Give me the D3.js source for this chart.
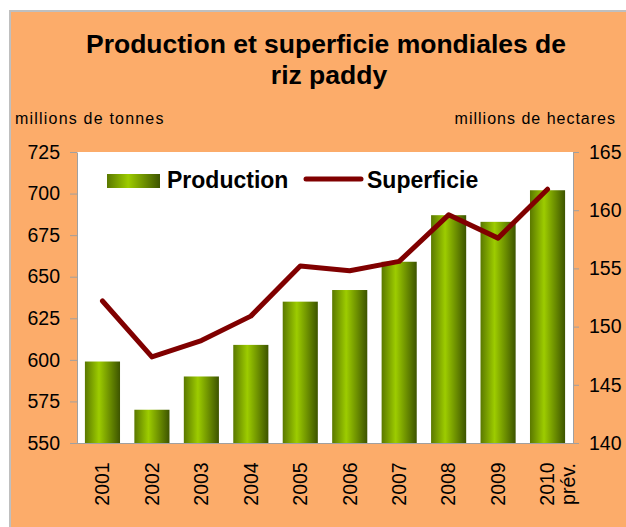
<!DOCTYPE html>
<html>
<head>
<meta charset="utf-8">
<script src="https://cdn.jsdelivr.net/npm/d3@7"></script>
<style>
  body { margin: 0; background: #fff; }
  svg { display: block; font-family: "Liberation Sans", Arial, sans-serif; }
  .tick text { font-size: 19.5px; fill: #000; }
  .tick line, .domain { stroke: #a0a0a0; }
</style>
</head>
<body>
<div id="chart"></div>
<script>
// chart data
var years = ["2001", "2002", "2003", "2004", "2005", "2006", "2007", "2008", "2009", "2010"];
var yearLabels = [["2001"], ["2002"], ["2003"], ["2004"], ["2005"], ["2006"], ["2007"], ["2008"], ["2009"], ["2010", "prév."]];
var production = [599, 570, 590, 609, 635, 642, 659, 687, 683, 702];   // millions de tonnes
var superficie = [152.2, 147.4, 148.8, 150.9, 155.2, 154.8, 155.6, 159.6, 157.6, 161.8]; // millions d'hectares
var leftTicks = [550, 575, 600, 625, 650, 675, 700, 725];
var rightTicks = [140, 145, 150, 155, 160, 165];

var width = 626, height = 527;
var plot = {left: 77, right: 573, top: 152, bottom: 443};

var svg = d3.select("#chart").append("svg")
    .attr("width", width)
    .attr("height", height);

// gradient for the bars
var defs = svg.append("defs");
var grad = defs.append("linearGradient").attr("id", "barGrad")
    .attr("x1", "0%").attr("x2", "100%").attr("y1", "0%").attr("y2", "0%");
grad.append("stop").attr("offset", "0%").attr("stop-color", "#5a7800");
grad.append("stop").attr("offset", "40%").attr("stop-color", "#9dcc00");
grad.append("stop").attr("offset", "100%").attr("stop-color", "#3d5400");

// orange panel with grey edge
svg.append("rect")
    .attr("x", 10).attr("y", 11)
    .attr("width", width).attr("height", height)
    .attr("fill", "#fcac6a")
    .attr("stroke", "#bfbfbf").attr("stroke-width", 2);

// white plot area
svg.append("rect")
    .attr("x", plot.left).attr("y", plot.top)
    .attr("width", plot.right - plot.left).attr("height", plot.bottom - plot.top)
    .attr("fill", "#fff");

// title
var title = svg.append("text")
    .attr("text-anchor", "middle")
    .attr("font-weight", "bold")
    .attr("font-size", 26.5);
title.append("tspan").attr("x", 326).attr("y", 53).text("Production et superficie mondiales de");
title.append("tspan").attr("x", 329).attr("y", 84).text("riz paddy");

// axis titles
svg.append("text")
    .attr("x", 15).attr("y", 124)
    .attr("font-size", 16).attr("letter-spacing", 1.2)
    .text("millions de tonnes");
svg.append("text")
    .attr("x", 616).attr("y", 124)
    .attr("text-anchor", "end")
    .attr("font-size", 16).attr("letter-spacing", 1)
    .text("millions de hectares");

// scales
var x = d3.scaleBand()
    .domain(years)
    .range([plot.left, plot.right])
    .paddingInner(0.29)
    .paddingOuter(0.16);

var yLeft = d3.scaleLinear().domain([550, 725]).range([plot.bottom, plot.top]);
var yRight = d3.scaleLinear().domain([140, 165]).range([plot.bottom, plot.top]);

// bars
svg.append("g").selectAll("rect")
    .data(production)
    .enter()
    .append("rect")
    .attr("x", function(d, i){ return x(years[i]); })
    .attr("y", function(d){ return yLeft(d); })
    .attr("width", x.bandwidth())
    .attr("height", function(d){ return plot.bottom - yLeft(d); })
    .attr("fill", "url(#barGrad)");

// superficie line
var line = d3.line()
    .x(function(d, i){ return x(years[i]) + x.bandwidth() / 2; })
    .y(function(d){ return yRight(d); });

svg.append("path")
    .datum(superficie)
    .attr("d", line)
    .attr("fill", "none")
    .attr("stroke", "#800000")
    .attr("stroke-width", 5)
    .attr("stroke-linejoin", "round")
    .attr("stroke-linecap", "round");

// axes
svg.append("g")
    .attr("transform", "translate(" + plot.left + ",0)")
    .call(d3.axisLeft(yLeft).tickValues(leftTicks).tickSize(7).tickSizeOuter(0).tickPadding(10));

svg.append("g")
    .attr("transform", "translate(" + plot.right + ",0)")
    .call(d3.axisRight(yRight).tickValues(rightTicks).tickSize(6).tickSizeOuter(0).tickPadding(10));

svg.append("line")
    .attr("x1", plot.left).attr("x2", plot.right)
    .attr("y1", plot.bottom + 0.5).attr("y2", plot.bottom + 0.5)
    .attr("stroke", "#a0a0a0");

// let the css font apply to axis labels
svg.selectAll("g[font-family]").attr("font-family", null).attr("font-size", null);

// rotated year labels
var xl = svg.append("g").selectAll("text")
    .data(yearLabels)
    .enter()
    .append("text")
    .attr("transform", function(d, i){
        return "translate(" + (x(years[i]) + x.bandwidth() / 2) + ",484) rotate(-90)";
    })
    .attr("text-anchor", "middle")
    .attr("font-size", 19.5);

xl.selectAll("tspan")
    .data(function(d){ return d; })
    .enter()
    .append("tspan")
    .attr("x", 0)
    .attr("dy", function(d, i){ return i == 0 ? "0.35em" : "1.05em"; })
    .text(function(d){ return d; });

// legend
var legend = svg.append("g");
legend.append("rect")
    .attr("x", 107).attr("y", 174)
    .attr("width", 53).attr("height", 14)
    .attr("fill", "url(#barGrad)");
legend.append("text")
    .attr("x", 167).attr("y", 188)
    .attr("font-weight", "bold").attr("font-size", 23)
    .text("Production");
legend.append("line")
    .attr("x1", 306).attr("x2", 361)
    .attr("y1", 179).attr("y2", 179)
    .attr("stroke", "#800000").attr("stroke-width", 5)
    .attr("stroke-linecap", "round");
legend.append("text")
    .attr("x", 367).attr("y", 188)
    .attr("font-weight", "bold").attr("font-size", 23)
    .text("Superficie");
</script>
</body>
</html>
